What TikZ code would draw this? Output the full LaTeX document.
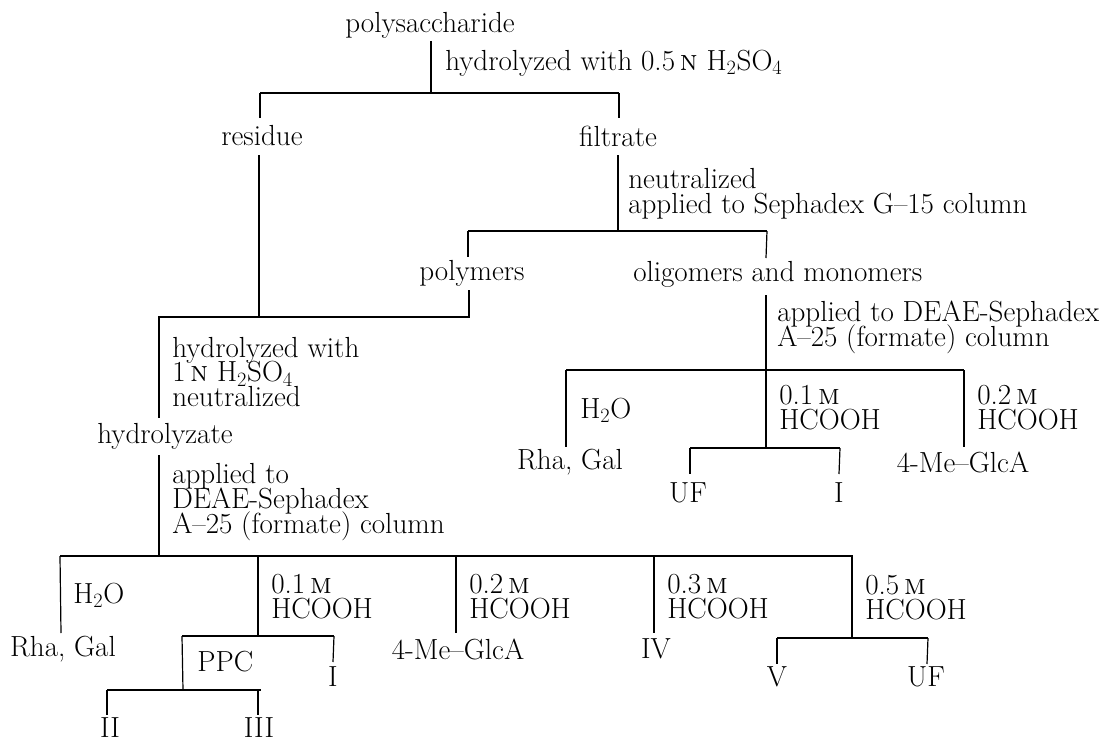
\documentclass[tikz,border=0pt]{standalone}
\usepackage{fontspec}
\newcommand{\lblfont}{\fontsize{21.8}{18.6}\selectfont\lineskiplimit=-20pt\relax}
\begin{document}
\tikzset{
  lbl/.style={inner sep=0pt, font=\lblfont, align=left},
  ln/.style={line width=0.9pt, line cap=butt},
}
\newcommand{\Nn}{\,\textsc{n}}
\newcommand{\Mm}{\,\textsc{m}}
\begin{tikzpicture}[x=0.75pt,y=-0.75pt]
\useasboundingbox (0,0) rectangle (1104,742);
% ---------- text nodes ----------
\node[lbl] (poly) at (430,25) {polysaccharide};
\node[lbl,anchor=west] (hyd1) at (445,63) {hydrolyzed with 0.5\Nn{} H\textsubscript{2}SO\textsubscript{4}};
\node[lbl] (residue) at (262,136) {residue};
\node[lbl] (filtrate) at (618,136) {filtrate};
\node[lbl,anchor=west] (neut1) at (628,194) {neutralized\\applied to Sephadex G–15 column};
\node[lbl] (polymers) at (472,273) {polymers};
\node[lbl,anchor=west] (oligo) at (633,274) {oligomers and monomers};
\node[lbl,anchor=west] (app2) at (777,327) {applied to DEAE-Sephadex\\A–25 (formate) column};
\node[lbl,anchor=west] (h2oA) at (580,410) {H\textsubscript{2}O};
\node[lbl,anchor=west] (m1A) at (779,408) {0.1\Mm\\HCOOH};
\node[lbl,anchor=west] (m2A) at (977,408) {0.2\Mm\\HCOOH};
\node[lbl] (rgA) at (570,462) {Rha, Gal};
\node[lbl] (glcA) at (963,462) {4-Me–GlcA};
\node[lbl] (ufA) at (688,493) {UF};
\node[lbl] (iA) at (839,493) {I};
\node[lbl,anchor=west] (hyd2) at (172,372) {hydrolyzed with\\1\Nn{} H\textsubscript{2}SO\textsubscript{4}\\neutralized};
\node[lbl] (hydrolyzate) at (165,436) {hydrolyzate};
\node[lbl,anchor=west] (app3) at (172,502) {applied to\\DEAE-Sephadex\\A–25 (formate) column};
\node[lbl,anchor=west] (h2oB) at (73,595) {H\textsubscript{2}O};
\node[lbl,anchor=west] (m1B) at (271,597) {0.1\Mm\\HCOOH};
\node[lbl,anchor=west] (m2B) at (469,597) {0.2\Mm\\HCOOH};
\node[lbl,anchor=west] (m3B) at (667,597) {0.3\Mm\\HCOOH};
\node[lbl,anchor=west] (m5B) at (865,598) {0.5\Mm\\HCOOH};
\node[lbl] (rgB) at (63,649) {Rha, Gal};
\node[lbl] (glcB) at (458,649) {4-Me–GlcA};
\node[lbl] (iv) at (656,649) {IV};
\node[lbl,anchor=west] (ppc) at (197,662) {PPC};
\node[lbl] (iB) at (333,677) {I};
\node[lbl] (v) at (777,677) {V};
\node[lbl] (ufB) at (926,677) {UF};
\node[lbl] (ii) at (110,728) {II};
\node[lbl] (iii) at (259,728) {III};
% ---------- junction coordinates ----------
\coordinate (p0) at (431,41);   \coordinate (p1) at (431,93);
\coordinate (b1l) at (260,93);  \coordinate (b1r) at (619,93);
\coordinate (res0) at (260,118); \coordinate (fil0) at (619,118);
\coordinate (res1) at (259,155); \coordinate (res2) at (259,317);
\coordinate (fil1) at (618,155); \coordinate (fil2) at (618,231);
\coordinate (b2l) at (468,231); \coordinate (b2r) at (767,231);
\coordinate (pol0) at (468,257); \coordinate (pol1) at (469,290); \coordinate (pol2) at (469,317);
\coordinate (b3l) at (158,317);
\coordinate (oli0) at (766,258); \coordinate (oli1) at (766,295); \coordinate (oli2) at (766,370);
\coordinate (b4l) at (566,370); \coordinate (b4r) at (964,370);
\coordinate (h2oA0) at (566,447); \coordinate (m2A0) at (964,447);
\coordinate (m1A0) at (766,448);
\coordinate (b5l) at (690,448); \coordinate (b5r) at (840,448);
\coordinate (ufA0) at (690,474); \coordinate (iA0) at (839,474);
\coordinate (hy0) at (159,317); \coordinate (hy1) at (159,418);
\coordinate (hy2) at (159,455); \coordinate (hy3) at (159,556);
\coordinate (b6l) at (60,556); \coordinate (b6r) at (853,556);
\coordinate (h2oB0) at (61,633);
\coordinate (m1B0) at (258,556); \coordinate (m1B1) at (258,636);
\coordinate (m2B0) at (456,556); \coordinate (m2B1) at (456,633);
\coordinate (m3B0) at (654,556); \coordinate (m3B1) at (654,633);
\coordinate (m5B0) at (852,556); \coordinate (m5B1) at (852,638);
\coordinate (b7l) at (182,636); \coordinate (b7r) at (334,636);
\coordinate (ppc1) at (183,690); \coordinate (iB0) at (333,662);
\coordinate (b8l) at (107,690); \coordinate (b8r) at (261,690);
\coordinate (ii0) at (107,715); \coordinate (iii0) at (258,690); \coordinate (iii1) at (258,715);
\coordinate (b9l) at (777,638); \coordinate (b9r) at (928,638);
\coordinate (v0) at (777,664); \coordinate (ufB0) at (927,664);
% ---------- connectors ----------
\draw[ln] (p0) -- (p1);
\draw[ln] (b1l) -- (b1r);
\draw[ln] (b1l) -- (res0);
\draw[ln] (b1r) -- (fil0);
\draw[ln] (res1) -- (res2);
\draw[ln] (fil1) -- (fil2);
\draw[ln] (b2l) -- (b2r);
\draw[ln] (b2l) -- (pol0);
\draw[ln] (b2r) -- (oli0);
\draw[ln] (pol1) -- (pol2) -- (b3l);
\draw[ln] (oli1) -- (oli2);
\draw[ln] (b4l) -- (b4r);
\draw[ln] (b4l) -- (h2oA0);
\draw[ln] (oli2) -- (m1A0);
\draw[ln] (b4r) -- (m2A0);
\draw[ln] (b5l) -- (b5r);
\draw[ln] (b5l) -- (ufA0);
\draw[ln] (b5r) -- (iA0);
\draw[ln] (hy0) -- (hy1);
\draw[ln] (hy2) -- (hy3);
\draw[ln] (b6l) -- (b6r);
\draw[ln] (b6l) -- (h2oB0);
\draw[ln] (m1B0) -- (m1B1);
\draw[ln] (m2B0) -- (m2B1);
\draw[ln] (m3B0) -- (m3B1);
\draw[ln] (m5B0) -- (m5B1);
\draw[ln] (b7l) -- (b7r);
\draw[ln] (b7l) -- (ppc1);
\draw[ln] (b7r) -- (iB0);
\draw[ln] (b8l) -- (b8r);
\draw[ln] (b8l) -- (ii0);
\draw[ln] (iii0) -- (iii1);
\draw[ln] (b9l) -- (b9r);
\draw[ln] (b9l) -- (v0);
\draw[ln] (b9r) -- (ufB0);
\end{tikzpicture}
\end{document}
